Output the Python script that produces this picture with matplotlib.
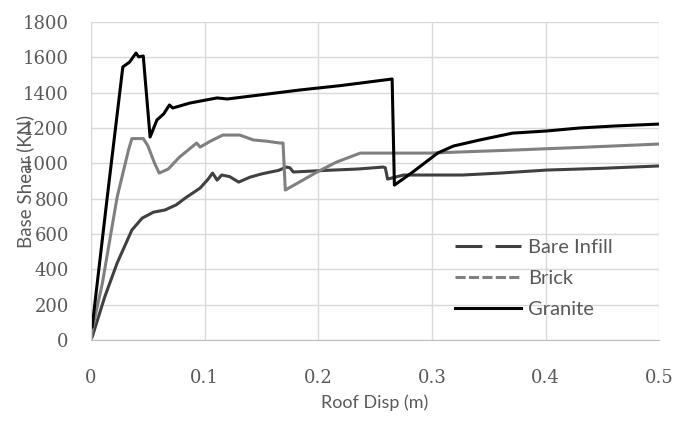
import matplotlib
matplotlib.use("Agg")
import matplotlib.pyplot as plt
from matplotlib.lines import Line2D

# roof displacement (m) vs base shear (kN)
bare_x = [0.0, 0.001, 0.012, 0.023, 0.036, 0.045, 0.055, 0.065, 0.075, 0.083, 0.096, 0.103, 0.107,
          0.111, 0.115, 0.122, 0.130, 0.140, 0.150, 0.158, 0.165, 0.172, 0.175, 0.178, 0.19, 0.213,
          0.235, 0.257, 0.259, 0.261, 0.275, 0.301, 0.327, 0.36, 0.401, 0.45, 0.499]
bare_y = [15, 17, 243, 436, 623, 690, 724, 736, 765, 804, 860, 910, 945,
          905, 934, 925, 894, 922, 940, 951, 960, 979, 975, 951, 955, 962,
          968, 979, 975, 911, 934, 934, 934, 945, 962, 972, 985]

brick_x = [0.0, 0.001, 0.010, 0.023, 0.033, 0.036, 0.046, 0.050, 0.056, 0.060, 0.068, 0.078, 0.093,
           0.096, 0.105, 0.116, 0.131, 0.143, 0.155, 0.166, 0.169, 0.171, 0.185, 0.199, 0.216,
           0.237, 0.26, 0.298, 0.371, 0.43, 0.499]
brick_y = [0, 57, 322, 809, 1075, 1140, 1140, 1100, 1000, 945, 968, 1036, 1115,
           1092, 1125, 1160, 1160, 1132, 1125, 1115, 1115, 849, 900, 951, 1007,
           1058, 1058, 1058, 1075, 1090, 1109]

granite_x = [0.0, 0.001, 0.014, 0.028, 0.034, 0.0396, 0.042, 0.046, 0.052, 0.058, 0.064, 0.069,
             0.072, 0.087, 0.111, 0.120, 0.149, 0.184, 0.22, 0.265, 0.267, 0.283, 0.305, 0.319,
             0.342, 0.371, 0.401, 0.43, 0.46, 0.499]
granite_y = [70, 74, 792, 1545, 1573, 1624, 1602, 1607, 1149, 1245, 1280, 1330,
             1313, 1341, 1370, 1364, 1387, 1415, 1440, 1477, 877, 950, 1058, 1098,
             1132, 1171, 1183, 1200, 1211, 1222]

labels = ["Bare Infill", "Brick", "Granite"]
colors = ["#404040", "#808080", "#000000"]

plt.rcParams['font.family'] = ['Lato', 'DejaVu Sans']

fig = plt.figure(figsize=(6.74, 4.21), dpi=100)
ax = fig.add_axes([0.135, 0.192, 0.843, 0.756])

ax.plot(bare_x, bare_y, color=colors[0], lw=2.2, solid_joinstyle='round')
ax.plot(brick_x, brick_y, color=colors[1], lw=2.2, solid_joinstyle='round')
ax.plot(granite_x, granite_y, color=colors[2], lw=2.2, solid_joinstyle='round')

ax.set_xlim(0, 0.5)
ax.set_ylim(0, 1800)
ax.set_xticks([0, 0.1, 0.2, 0.3, 0.4, 0.5])
ax.set_xticklabels(["0", "0.1", "0.2", "0.3", "0.4", "0.5"])
ax.set_yticks(range(0, 1801, 200))
ax.grid(True, color="#d9d9d9", lw=1)
ax.set_axisbelow(True)
for s in ["top", "right"]:
    ax.spines[s].set_visible(False)
ax.spines["left"].set_color("#d9d9d9")
ax.spines["bottom"].set_color("#bfbfbf")
ax.tick_params(length=0, colors="#595959")
ax.tick_params(axis="x", pad=21)
ax.tick_params(axis="y", pad=16)
for t in ax.get_xticklabels() + ax.get_yticklabels():
    t.set_family("DejaVu Serif")
    t.set_fontsize(13)

ax.set_xlabel("Roof Disp (m)", fontsize=13, color="#595959", labelpad=5)
# the Excel original lets the axis title run over the tick labels
ax.set_ylabel("Base Shear (KN)", fontsize=13.5, color="#595959")
ax.yaxis.set_label_coords(-0.1, 0.5)

handles = [
    Line2D([], [], color=colors[0], lw=2.2, dashes=(8.8, 4.3)),
    Line2D([], [], color=colors[1], lw=2.2, dashes=(3.3, 1.1)),
    Line2D([], [], color=colors[2], lw=2.2),
]
ax.legend(handles, labels, loc="upper left", bbox_to_anchor=(0.609, 0.375), frameon=False,
          fontsize=14.5, labelcolor="#595959", handlelength=3.25, handletextpad=0.35,
          labelspacing=0.7)

fig.savefig("out.png", dpi=100)
